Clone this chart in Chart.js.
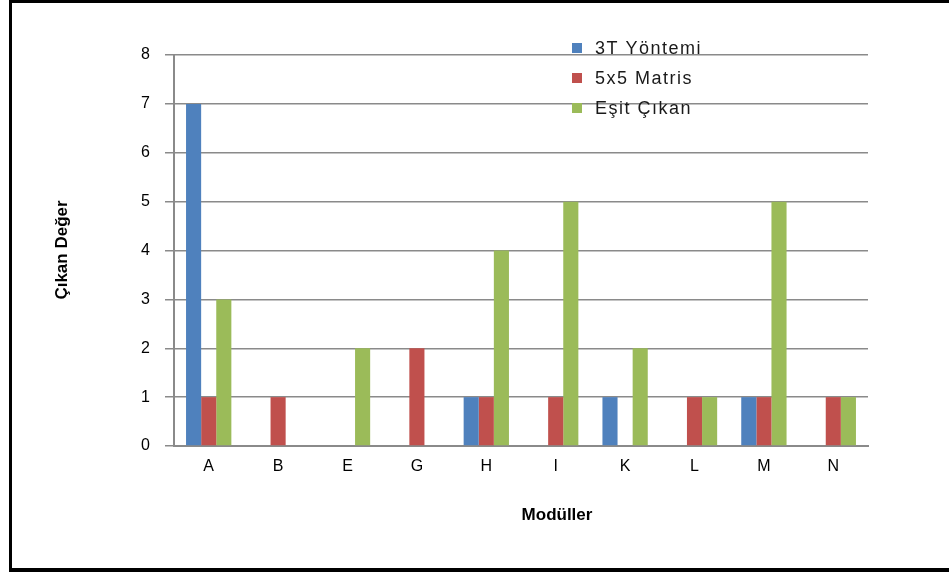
<!DOCTYPE html>
<html>
<head>
<meta charset="utf-8">
<script src="https://cdn.jsdelivr.net/npm/chart.js@4/dist/chart.umd.min.js"></script>
<style>
  html, body { margin: 0; padding: 0; background: #fff; }
  #frame {
    position: absolute; left: 0; top: 0; width: 949px; height: 572px;
    overflow: hidden; background: #fff;
  }
  #box {
    position: absolute; left: 9px; top: 0; width: 960px; height: 572px;
    border-left: 3px solid #000; border-top: 3px solid #000; border-bottom: 4px solid #000;
    box-sizing: border-box;
  }
  #c { position: absolute; left: 0; top: 0; }
</style>
</head>
<body>
<div id="frame">
  <div id="box"></div>
  <canvas id="c" width="949" height="572"></canvas>
</div>
<script>
// Modules and how often each method came out on top
const categories = ['A', 'B', 'E', 'G', 'H', 'I', 'K', 'L', 'M', 'N'];
const yontem3T   = [7, 0, 0, 0, 1, 0, 1, 0, 1, 0];
const matris5x5  = [1, 1, 0, 2, 1, 1, 0, 1, 1, 1];
const esitCikan  = [3, 0, 2, 0, 4, 5, 2, 1, 5, 1];
const seriesNames = ['3T Yöntemi', '5x5 Matris', 'Eşit Çıkan'];
const yTicks = [0, 1, 2, 3, 4, 5, 6, 7, 8];
const xTitle = 'Modüller';
const yTitle = 'Çıkan Değer';

const FONT = '"Liberation Sans", Arial, sans-serif';
const GRID = '#8a8a8a';

// Legend drawn inside the plot, upper right
const innerLegend = {
  id: 'innerLegend',
  afterDatasetsDraw(chart) {
    const ctx = chart.ctx;
    ctx.save();
    ctx.font = '18px ' + FONT;
    ctx.letterSpacing = '1.5px';
    ctx.textBaseline = 'middle';
    ctx.textAlign = 'left';
    chart.data.datasets.forEach((ds, i) => {
      const y = 48 + i * 30;
      ctx.fillStyle = ds.backgroundColor;
      ctx.fillRect(572, y - 5, 10, 10);
      ctx.fillStyle = '#1a1a1a';
      ctx.fillText(ds.label, 595, y + 1);
    });
    ctx.restore();
  }
};

// Bold axis titles
const axisTitles = {
  id: 'axisTitles',
  afterDraw(chart) {
    const ctx = chart.ctx;
    ctx.save();
    ctx.font = 'bold 17px ' + FONT;
    ctx.fillStyle = '#000';
    ctx.textAlign = 'center';
    ctx.textBaseline = 'middle';
    ctx.fillText(xTitle, 557, 515);
    ctx.translate(62, 250);
    ctx.rotate(-Math.PI / 2);
    ctx.fillText(yTitle, 0, 0);
    ctx.restore();
  }
};

new Chart(document.getElementById('c'), {
  type: 'bar',
  data: {
    labels: categories,
    datasets: [
      { label: seriesNames[0], data: yontem3T,  backgroundColor: '#4F81BD' },
      { label: seriesNames[1], data: matris5x5, backgroundColor: '#C0504D' },
      { label: seriesNames[2], data: esitCikan, backgroundColor: '#9BBB59' }
    ]
  },
  options: {
    responsive: false,
    animation: false,
    devicePixelRatio: 1,
    layout: { padding: { left: 0, top: 55, right: 81, bottom: 0 } },
    datasets: { bar: { categoryPercentage: 0.653, barPercentage: 1.0 } },
    plugins: {
      legend: { display: false },
      tooltip: { enabled: false }
    },
    scales: {
      x: {
        afterFit(scale) { scale.height = 126; },
        grid: { display: false, drawTicks: false },
        border: { display: true, color: GRID, width: 2 },
        ticks: { padding: 11, color: '#000', font: { family: FONT, size: 16 } }
      },
      y: {
        min: 0, max: 8,
        afterFit(scale) { scale.width = 174; },
        afterBuildTicks(scale) { scale.ticks = yTicks.map(v => ({ value: v })); },
        grid: { color: GRID, lineWidth: 1.5, tickLength: 9, drawTicks: true },
        border: { display: true, color: GRID, width: 2 },
        ticks: { padding: 15, color: '#000', font: { family: FONT, size: 16 } }
      }
    }
  },
  plugins: [innerLegend, axisTitles]
});
</script>
</body>
</html>
